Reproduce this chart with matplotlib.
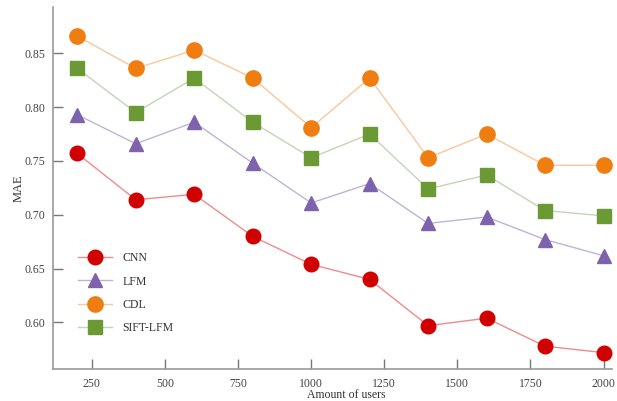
import matplotlib
matplotlib.use("Agg")
import matplotlib.pyplot as plt

users = [200, 400, 600, 800, 1000, 1200, 1400, 1600, 1800, 2000]
cnn = [0.757, 0.714, 0.719, 0.680, 0.654, 0.640, 0.597, 0.604, 0.578, 0.572]
lfm = [0.793, 0.766, 0.786, 0.748, 0.711, 0.729, 0.692, 0.698, 0.677, 0.662]
cdl = [0.866, 0.836, 0.853, 0.827, 0.781, 0.827, 0.753, 0.775, 0.746, 0.746]
sift_lfm = [0.836, 0.795, 0.827, 0.786, 0.753, 0.775, 0.724, 0.737, 0.704, 0.699]

x_ticks = [250, 500, 750, 1000, 1250, 1500, 1750, 2000]
y_ticks = [0.60, 0.65, 0.70, 0.75, 0.80, 0.85]

plt.rcParams["font.family"] = ["Liberation Serif", "DejaVu Serif"]

fig = plt.figure(figsize=(6.17, 4.01), dpi=100)
ax = fig.add_axes([0.0854, 0.079, 0.907, 0.9035])

series = [
    ("CNN", cnn, "o", "#d00000", "#f08a8a", 10.5),
    ("LFM", lfm, "^", "#7d62ad", "#bdb4d6", 9.5),
    ("CDL", cdl, "o", "#f07d10", "#f9c79a", 11),
    ("SIFT-LFM", sift_lfm, "s", "#6b9a34", "#c6d3b8", 9.5),
]
for label, vals, mk, mc, lc, ms in series:
    ax.plot(users, vals, color=lc, lw=1.0, marker=mk, markersize=ms,
            markerfacecolor=mc, markeredgecolor=mc, label=label)

ax.set_xlim(116, 2030)
ax.set_ylim(0.5565, 0.893)
ax.set_xticks(x_ticks)
ax.set_yticks(y_ticks)
ax.set_yticklabels([f"{v:.2f}" for v in y_ticks])

for side in ("top", "right"):
    ax.spines[side].set_visible(False)
for side in ("left", "bottom"):
    ax.spines[side].set_color("#9a9a9a")
    ax.spines[side].set_linewidth(1.2)
ax.tick_params(direction="in", length=7, width=1.0, color="#777777",
               labelsize=8.5, labelcolor="#444444")
ax.tick_params(axis="x", pad=6)
ax.tick_params(axis="y", pad=5)

ax.set_xlabel("Amount of users", fontsize=8.5, color="#333333")
ax.xaxis.set_label_coords(0.525, -0.055)
ax.set_ylabel("MAE", fontsize=9, color="#333333")
ax.yaxis.set_label_coords(-0.05, 0.5)

ax.legend(loc="upper left", bbox_to_anchor=(0.026, 0.352), frameon=False,
          fontsize=8.5, labelspacing=0.95, handlelength=2.9,
          handletextpad=0.9, labelcolor="#333333")

fig.savefig("out.png", dpi=100)
